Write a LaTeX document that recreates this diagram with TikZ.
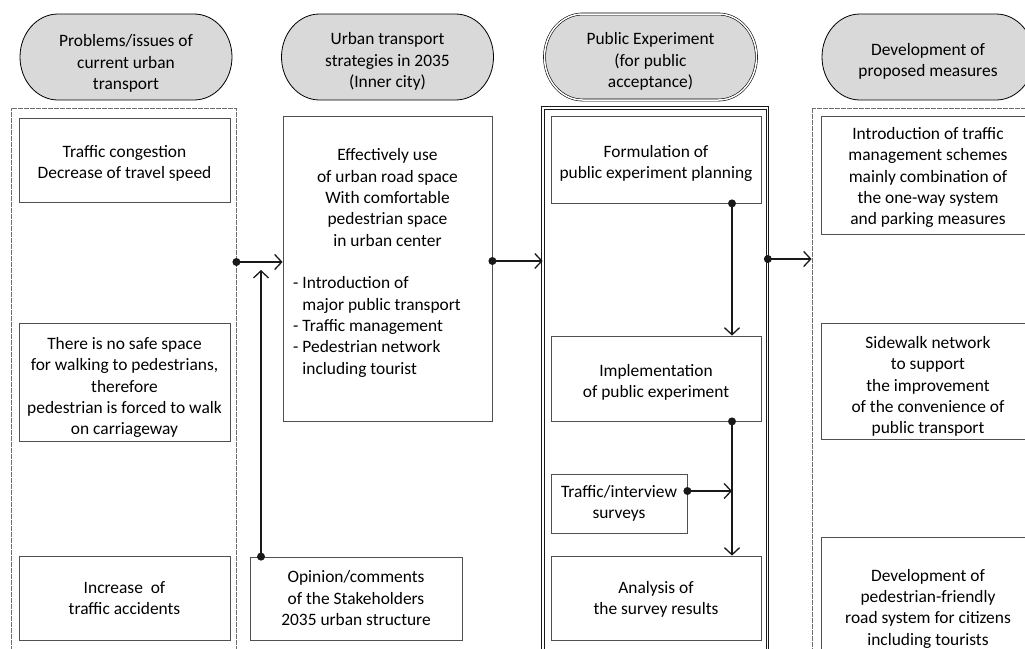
\documentclass[tikz,border=0pt]{standalone}
\usepackage{fontspec}
\setmainfont{Carlito}
\usetikzlibrary{arrows.meta}

\definecolor{ovalfill}{RGB}{217,217,217}
\definecolor{boxline}{RGB}{80,80,80}
\definecolor{dotline}{RGB}{110,110,110}
\definecolor{ink}{RGB}{25,25,25}

% centred lines, drawn lower by #1 without changing the box size
\newcommand\droptext[2]{\raisebox{-#1}[\height][\depth]{\begin{tabular}{@{}c@{}}#2\end{tabular}}}

\tikzset{
  headline/.style={draw=black,line width=0.8pt,fill=ovalfill},
  % stadium-shaped header outline with elliptic ends
  pics/stadium/.style={code={
    \draw[headline,#1] (-68,43) -- (68,43)
      arc[start angle=90,end angle=-90,x radius=38,y radius=43]
      -- (-68,-43)
      arc[start angle=270,end angle=90,x radius=38,y radius=43] -- cycle;}},
  headtext/.style={align=center,inner sep=0pt},
  box/.style={draw=boxline,line width=0.8pt,fill=white,align=center,inner sep=0pt},
  dotframe/.style={draw=dotline,line width=0.8pt,dash pattern=on 0.6pt off 0.6pt,inner sep=0pt},
  dblframe/.style={draw=ink,line width=0.7pt,double,double distance=1.8pt,inner sep=0pt},
  conn/.style={draw=ink,line width=1.5pt,-{Straight Barb[length=7pt,width=15pt,line width=1.3pt]}},
  jdot/.style={circle,fill=ink,inner sep=0pt,minimum size=8pt}
}

\begin{document}
\begin{tikzpicture}[x=1pt,y=1pt,font=\fontsize{17.4}{21.3}\selectfont]
\useasboundingbox (0,0) rectangle (1025,-648);
\clip (0,0) rectangle (1025,-648);

% column frames
\node[dotframe,minimum width=225,minimum height=552] (c1) at (123.5,-384) {};
\node[dblframe,minimum width=224.5,minimum height=552] (c3) at (655.25,-384) {};
\node[dotframe,minimum width=230,minimum height=552] (c4) at (927,-384) {};

% headers
\pic at (126,-57) {stadium=draw};
\pic at (387.5,-57) {stadium=draw};
\pic at (650.5,-57) {stadium={double,double distance=1.5pt,line width=0.6pt}};
\pic at (928,-57) {stadium=draw};
\node[headtext] (h1) at (126,-63.5) {Problems/issues of\\current urban\\transport};
\node[headtext] (h2) at (387.5,-61.5) {Urban transport\\strategies in 2035\\(Inner city)};
\node[headtext] (h3) at (650.5,-61.5) {Public Experiment\\(for public\\acceptance)};
\node[headtext] (h4) at (928,-61.5) {Development of\\proposed measures};

% column 1: problems
\node[box,minimum width=211,minimum height=84] (b11) at (124.5,-160)
  {\droptext{4pt}{Traffic congestion\\Decrease of travel speed}};
\node[box,minimum width=211,minimum height=118] (b12) at (124.5,-382)
  {\droptext{6pt}{There is no safe space\\for walking to pedestrians,\\therefore\\pedestrian is forced to walk\\on carriageway}};
\node[box,minimum width=211,minimum height=84] (b13) at (124.5,-598)
  {\droptext{1.5pt}{Increase\ \ of\\traffic accidents}};

% column 2: strategies
\node[box,minimum width=209,minimum height=305] (b21) at (387.5,-268.5) {};
\node[headtext] (t21) at (387.5,-197.5)
  {Effectively use\\of urban road space\\With comfortable\\pedestrian space\\in urban center};
\node[inner sep=0pt,align=left,anchor=west] (t21l) at (293,-327)
  {- Introduction of\\\phantom{- }major public transport\\- Traffic management\\- Pedestrian network\\\phantom{- }including tourist};
\node[box,minimum width=212,minimum height=83] (b22) at (356,-598.5)
  {\droptext{1.5pt}{Opinion/comments\\of the Stakeholders\\2035 urban structure}};

% column 3: public experiment
\node[box,minimum width=210,minimum height=87] (b31) at (656,-159.5)
  {\droptext{4pt}{Formulation of\\public experiment planning}};
\node[box,minimum width=210,minimum height=85] (b32) at (656,-378.5)
  {\droptext{4pt}{Implementation\\of public experiment}};
\node[box,minimum width=136,minimum height=59] (b33) at (619,-503.5)
  {\droptext{0pt}{Traffic/interview\\surveys}};
\node[box,minimum width=210,minimum height=84] (b34) at (656,-598)
  {\droptext{2pt}{Analysis of\\the survey results}};

% column 4: proposed measures
\node[box,minimum width=214,minimum height=118] (b41) at (928,-175)
  {\droptext{3pt}{Introduction of traffic\\management schemes\\mainly combination of\\the one-way system\\and parking measures}};
\node[box,minimum width=214,minimum height=116] (b42) at (928,-381)
  {\droptext{6pt}{Sidewalk network\\to support\\the improvement\\of the convenience of\\public transport}};
\node[box,minimum width=214,minimum height=142] (b43) at (928,-608)
  {\droptext{1pt}{Development of\\pedestrian-friendly\\road system for citizens\\including tourists}};

% connectors
\coordinate (j1) at (c1.east |- 0,-262);
\coordinate (j2) at (b21.east |- 0,-261);
\coordinate (j3) at (c3.east |- 0,-259);
\coordinate (j4) at (b22.north -| 261,0);
\coordinate (j4e) at (261,-270);
\coordinate (j5) at (b31.south -| 732,0);
\coordinate (j6) at (b32.south -| 732,0);
\coordinate (j7) at (b33.east |- 0,-491);

\draw[conn] (j1) -- (j1 -| b21.west);
\draw[conn] (j2) -- (j2 -| c3.west);
\draw[conn] (j3) -- (j3 -| c4.west);
\draw[conn] (j4) -- (j4e);
\draw[conn] (j5) -- (j5 |- b32.north);
\draw[conn] (j6) -- (j6 |- b34.north);
\draw[conn] (j7) -- (j7 -| j6);

\node[jdot] (d1) at (j1) {};
\node[jdot] (d2) at (j2) {};
\node[jdot] (d3) at (j3) {};
\node[jdot] (d4) at (j4) {};
\node[jdot] (d5) at (j5) {};
\node[jdot] (d6) at (j6) {};
\node[jdot] (d7) at (j7) {};
\end{tikzpicture}
\end{document}
